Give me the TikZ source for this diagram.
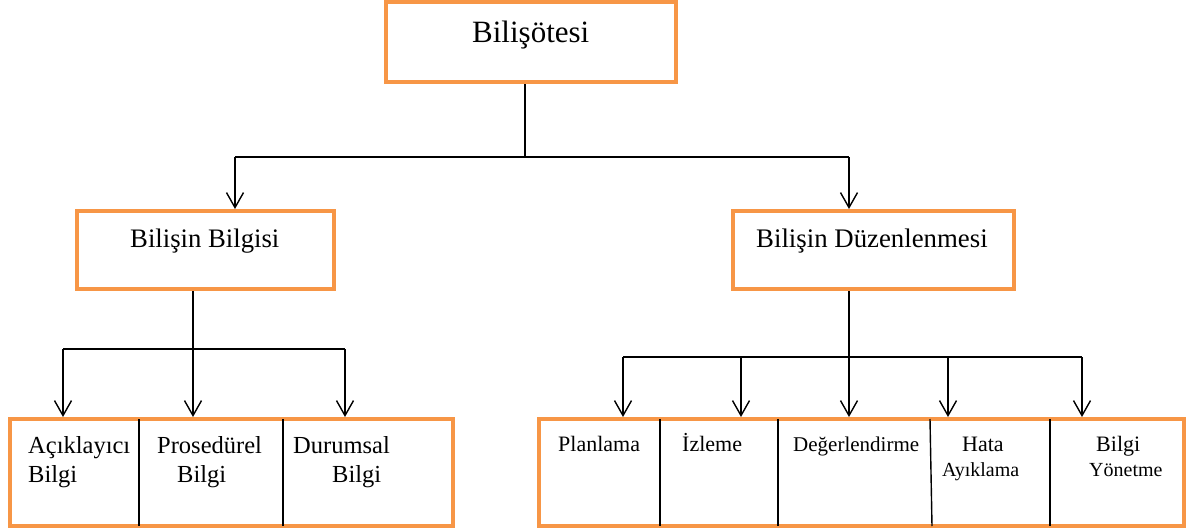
\documentclass[tikz,border=0pt]{standalone}
\usepackage{fontspec}
\setmainfont{Liberation Serif}
\usetikzlibrary{arrows.meta}
\definecolor{boxorange}{HTML}{F79646}
\tikzset{
  obox/.style={draw=boxorange, line width=4pt, rectangle, inner sep=0pt, fill=white},
  conn/.style={draw=black, line width=1.4pt},
  arr/.style={conn, -{Straight Barb[length=15pt, width=17pt, line width=1.4pt]}},
  divider/.style={draw=black, line width=1.4pt},
  lbl/.style={anchor=base west, inner sep=0pt, text=black},
}
\newcommand{\fs}[1]{\fontsize{#1}{#1}\selectfont}
\begin{document}
\begin{tikzpicture}[x=1pt, y=-1pt]
\useasboundingbox (0,0) rectangle (1203,531);
% boxes
\node[obox, minimum width=290pt, minimum height=80pt] (top) at (531,42) {};
\node[obox, minimum width=257pt, minimum height=78pt] (lb) at (205.5,250) {};
\node[obox, minimum width=281pt, minimum height=78pt] (rb) at (873.5,250) {};
\node[obox, minimum width=443pt, minimum height=107pt] (lbot) at (231.5,472.5) {};
\node[obox, minimum width=645pt, minimum height=107pt] (rbot) at (861.5,472.5) {};
% labels
\node[lbl, font=\fs{31}] (t0) at (472,42) {Bilişötesi};
\node[lbl, font=\fs{26.7}] (t1) at (130,247) {Bilişin Bilgisi};
\node[lbl, font=\fs{26.8}] (t2) at (756,247) {Bilişin Düzenlenmesi};
\node[lbl, font=\fs{24.5}] (a1) at (28,453) {Açıklayıcı};
\node[lbl, font=\fs{24.5}] (a2) at (28,482) {Bilgi};
\node[lbl, font=\fs{24.5}] (b1) at (157,453) {Prosedürel};
\node[lbl, font=\fs{24.5}] (b2) at (177,482) {Bilgi};
\node[lbl, font=\fs{24.5}] (c1) at (293,453) {Durumsal};
\node[lbl, font=\fs{24.5}] (c2) at (332,482) {Bilgi};
\node[lbl, font=\fs{22}] (d1) at (558,451) {Planlama};
\node[lbl, font=\fs{22}] (e1) at (682,451) {İzleme};
\node[lbl, font=\fs{21}] (f1) at (793,451) {Değerlendirme};
\node[lbl, font=\fs{22}] (g1) at (962,451) {Hata};
\node[lbl, font=\fs{20}] (g2) at (942,476) {Ayıklama};
\node[lbl, font=\fs{22}] (h1) at (1096,451) {Bilgi};
\node[lbl, font=\fs{20}] (h2) at (1089,476) {Yönetme};
% dividers
\coordinate (dl1t) at (139,419); \coordinate (dl1b) at (139,526);
\coordinate (dl2t) at (283,419); \coordinate (dl2b) at (283,526);
\coordinate (dr1t) at (660,419); \coordinate (dr1b) at (660,526);
\coordinate (dr2t) at (778,419); \coordinate (dr2b) at (778,526);
\coordinate (dr3t) at (930,419); \coordinate (dr3b) at (932,526);
\coordinate (dr4t) at (1050,419); \coordinate (dr4b) at (1050,526);
\draw[divider] (dl1t) -- (dl1b);
\draw[divider] (dl2t) -- (dl2b);
\draw[divider] (dr1t) -- (dr1b);
\draw[divider] (dr2t) -- (dr2b);
\draw[divider] (dr3t) -- (dr3b);
\draw[divider] (dr4t) -- (dr4b);
% top level connectors
\coordinate (j0) at (525,157);
\coordinate (jL) at (235,157);
\coordinate (jR) at (849,157);
\draw[conn] (top.south -| j0) -- (j0);
\draw[conn] (jL) -- (jR);
\draw[arr] (jL) -- (lb.north -| jL);
\draw[arr] (jR) -- (rb.north -| jR);
% left subtree
\coordinate (k0) at (193,349);
\coordinate (k1) at (63,349);
\coordinate (k3) at (345,349);
\draw[conn] (lb.south -| k0) -- (k0);
\draw[conn] (k1) -- (k3);
\draw[arr] (k1) -- (lbot.north -| k1);
\draw[arr] (k0) -- (lbot.north -| k0);
\draw[arr] (k3) -- (lbot.north -| k3);
% right subtree
\coordinate (m0) at (849,357);
\coordinate (m1) at (623,357);
\coordinate (m2) at (741,357);
\coordinate (m4) at (948,357);
\coordinate (m5) at (1082,357);
\draw[conn] (rb.south -| m0) -- (m0);
\draw[conn] (m1) -- (m5);
\draw[arr] (m1) -- (rbot.north -| m1);
\draw[arr] (m2) -- (rbot.north -| m2);
\draw[arr] (m0) -- (rbot.north -| m0);
\draw[arr] (m4) -- (rbot.north -| m4);
\draw[arr] (m5) -- (rbot.north -| m5);
\end{tikzpicture}
\end{document}
